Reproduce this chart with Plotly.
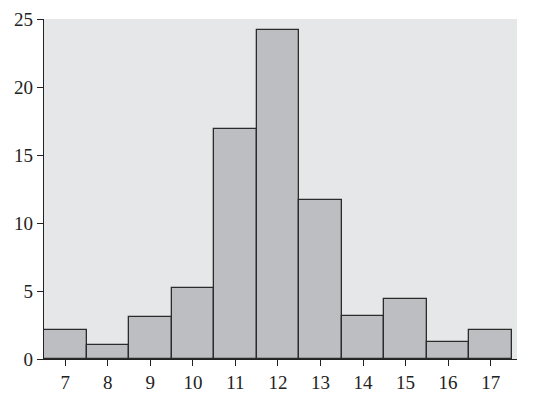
import plotly.graph_objects as go

categories = [7, 8, 9, 10, 11, 12, 13, 14, 15, 16, 17]
values = [2.1, 1.05, 3.1, 5.2, 16.9, 24.2, 11.7, 3.15, 4.4, 1.25, 2.1]
y_ticks = [0, 5, 10, 15, 20, 25]

fig = go.Figure(go.Bar(
    x=categories, y=values, width=1.0,
    marker=dict(color="#bdbec2", line=dict(color="#2b2b2b", width=1.3)),
))
font = dict(family="Liberation Serif, DejaVu Serif, serif", size=19, color="#222")
fig.update_layout(
    width=542, height=405,
    margin=dict(l=36, r=33, t=11, b=54),
    paper_bgcolor="white", plot_bgcolor="#e6e7e9",
    showlegend=False, bargap=0, font=font,
)
fig.update_xaxes(range=[6.5, 17.62], tickvals=categories, ticks="outside", ticklen=6,
                 tickcolor="#222", showgrid=False, zeroline=False, showline=True,
                 linecolor="#222", linewidth=1.3, automargin=False)
fig.update_yaxes(range=[0, 25], tickvals=y_ticks, ticks="outside", ticklen=6,
                 tickcolor="#222", showgrid=False, zeroline=False, showline=True,
                 linecolor="#222", linewidth=1.3, automargin=False)
fig.write_html("out.html")
